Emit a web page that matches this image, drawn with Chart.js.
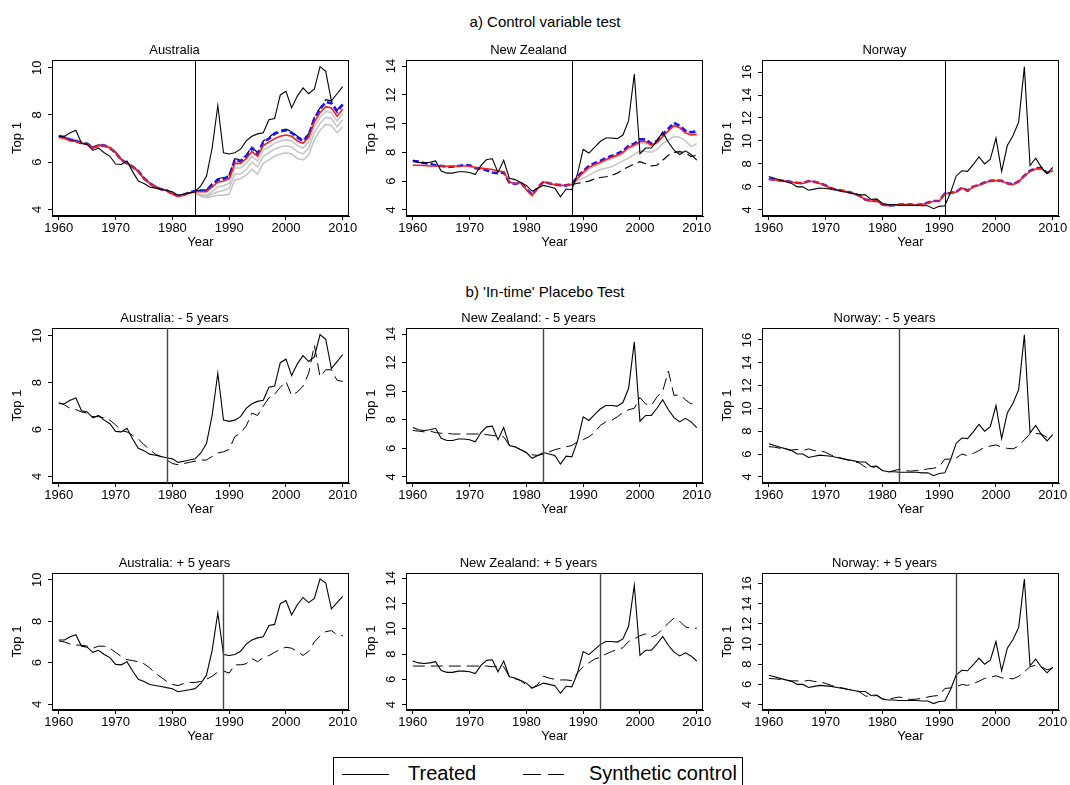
<!DOCTYPE html>
<html>
<head>
<meta charset="utf-8">
<script src="https://cdn.jsdelivr.net/npm/chart.js@4.4.1/dist/chart.umd.min.js"></script>
<style>
  html, body { margin: 0; padding: 0; background: #fff; }
  body { width: 1070px; height: 785px; position: relative; overflow: hidden; font-family: 'Liberation Sans', Arial, sans-serif; color: #000; }
  canvas { position: absolute; }
  .head { position: absolute; width: 400px; text-align: center; font-size: 15px; }
  #legend { position: absolute; left: 333px; top: 757px; width: 410px; height: 40px; border: 1px solid #000; box-sizing: border-box; }
  #legend svg { position: absolute; left: 0; top: 0; }
  #legend span { position: absolute; top: 4px; font-size: 20px; white-space: nowrap; }
</style>
</head>
<body>
<div class="head" style="left:345px;top:13px;">a) Control variable test</div>
<div class="head" style="left:345px;top:283px;">b) 'In-time' Placebo Test</div>
<div id="legend">
  <svg width="410" height="40">
    <line x1="8" y1="16.5" x2="55" y2="16.5" stroke="#000" stroke-width="1"/>
    <line x1="189" y1="16.5" x2="230" y2="16.5" stroke="#000" stroke-width="1" stroke-dasharray="18,7"/>
  </svg>
  <span style="left:74px;">Treated</span>
  <span style="left:255px;">Synthetic control</span>
</div>

<script>
const years = Array.from({ length: 51 }, (_, i) => 1960 + i);
const xTicks = [1960, 1970, 1980, 1990, 2000, 2010];
const auTicks = [4, 6, 8, 10];
const nzTicks = [4, 6, 8, 10, 12, 14];
const noTicks = [4, 6, 8, 10, 12, 14, 16];

// treated series (Top 1 share)
const auTreated = [7.1, 7.1, 7.25, 7.35, 6.8, 6.75, 6.5, 6.6, 6.4, 6.25,
  5.92, 5.9, 6.05, 5.6, 5.2, 5.1, 4.95, 4.9, 4.85, 4.8,
  4.75, 4.6, 4.65, 4.7, 4.75, 5.0, 5.4, 6.6, 8.4, 6.4,
  6.35, 6.4, 6.55, 6.9, 7.1, 7.2, 7.25, 7.8, 7.85, 8.85,
  9.0, 8.3, 8.8, 9.15, 8.9, 9.1, 10.05, 9.85, 8.6, 8.9,
  9.2];
const nzTreated = [7.45, 7.3, 7.25, 7.3, 7.4, 6.7, 6.55, 6.55, 6.65, 6.65,
  6.6, 6.45, 7.1, 7.5, 7.55, 6.6, 7.45, 6.2, 6.1, 5.9,
  5.7, 5.3, 5.5, 5.7, 5.6, 5.5, 4.9, 5.45, 5.4, 6.5,
  8.2, 7.95, 8.35, 8.75, 9.0, 9.0, 8.95, 9.2, 10.2, 13.45,
  7.9, 8.3, 8.3, 8.8, 9.4, 8.7, 8.15, 7.85, 8.1, 7.85,
  7.45];
const noTreated = [6.9, 6.75, 6.6, 6.45, 6.3, 6.0, 6.0, 5.7, 5.8, 5.9,
  5.85, 5.8, 5.7, 5.6, 5.5, 5.4, 5.3, 5.3, 4.9, 4.95,
  4.55, 4.45, 4.45, 4.4, 4.4, 4.4, 4.4, 4.35, 4.35, 4.1,
  4.3, 4.35, 5.5, 6.95, 7.4, 7.35, 7.95, 8.6, 8.0, 8.4,
  10.25, 7.35, 9.6, 10.45, 11.65, 16.45, 7.85, 8.5, 7.7, 7.15,
  7.7];

// a) control variable test: baseline synthetic (red), alternatives (blue, dashed, grey)
const auRed = [7.05, 7.0, 6.9, 6.88, 6.8, 6.75, 6.6, 6.7, 6.7, 6.6,
  6.4, 6.1, 5.95, 5.8, 5.6, 5.3, 5.1, 4.95, 4.85, 4.8,
  4.65, 4.55, 4.6, 4.7, 4.75, 4.75, 4.75, 4.95, 5.15, 5.2,
  5.3, 5.95, 5.95, 6.15, 6.45, 6.25, 6.7, 6.85, 7.0, 7.1,
  7.15, 7.1, 6.9, 6.8, 7.05, 7.7, 8.1, 8.35, 8.3, 7.95,
  8.25];
const auBlue = [7.1, 7.05, 6.95, 6.9, 6.8, 6.78, 6.62, 6.7, 6.7, 6.6,
  6.4, 6.1, 5.95, 5.8, 5.62, 5.32, 5.1, 4.95, 4.85, 4.8,
  4.65, 4.57, 4.62, 4.72, 4.78, 4.8, 4.8, 5.05, 5.25, 5.3,
  5.4, 6.1, 6.05, 6.25, 6.6, 6.35, 6.85, 7.0, 7.2, 7.3,
  7.35, 7.25, 7.05, 6.9, 7.15, 7.85, 8.25, 8.55, 8.5, 8.15,
  8.45];
const auDash = [7.12, 7.05, 6.95, 6.9, 6.82, 6.78, 6.62, 6.72, 6.7, 6.6,
  6.42, 6.12, 5.95, 5.82, 5.62, 5.32, 5.1, 4.97, 4.85, 4.8,
  4.67, 4.57, 4.62, 4.72, 4.78, 4.82, 4.82, 5.1, 5.3, 5.35,
  5.45, 6.15, 6.1, 6.3, 6.65, 6.4, 6.9, 7.05, 7.25, 7.35,
  7.4, 7.3, 7.1, 6.95, 7.2, 7.9, 8.3, 8.65, 8.6, 8.2,
  8.5];
const auGrey1 = [7.15, 7.1, 7.0, 6.95, 6.85, 6.8, 6.65, 6.75, 6.75, 6.65,
  6.45, 6.15, 6.0, 5.85, 5.65, 5.35, 5.15, 5.0, 4.9, 4.8,
  4.68, 4.58, 4.62, 4.7, 4.72, 4.62, 4.6, 4.75, 4.95, 5.0,
  5.1, 5.75, 5.75, 5.95, 6.25, 6.05, 6.5, 6.65, 6.8, 6.9,
  6.95, 6.9, 6.7, 6.6, 6.85, 7.5, 7.9, 8.15, 8.1, 7.75,
  8.05];
const auGreyStart = 1984;
const auGrey2 = [4.7, 4.6, 4.55, 4.65, 4.75, 4.8,
  4.9, 5.5, 5.5, 5.7, 6.0, 5.8, 6.25, 6.4, 6.55, 6.65,
  6.7, 6.65, 6.45, 6.35, 6.6, 7.25, 7.65, 7.9, 7.85, 7.5, 7.8];
const auGrey3 = [4.68, 4.55, 4.5, 4.55, 4.6, 4.6,
  4.65, 5.25, 5.3, 5.45, 5.7, 5.5, 5.95, 6.1, 6.25, 6.35,
  6.4, 6.35, 6.15, 6.1, 6.3, 6.95, 7.35, 7.6, 7.55, 7.25, 7.5];

const nzRed = [7.1, 7.1, 7.08, 7.05, 7.05, 7.05, 7.03, 7.03, 7.05, 7.05,
  7.05, 6.95, 6.9, 6.85, 6.8, 6.7, 6.65, 5.95, 5.8, 5.9,
  5.4, 5.0, 5.5, 5.95, 5.85, 5.75, 5.7, 5.7, 5.75, 6.2,
  6.6, 6.95, 7.15, 7.3, 7.5, 7.65, 7.8, 8.0, 8.35, 8.5,
  8.75, 8.75, 8.5, 8.7, 9.1, 9.5, 9.85, 9.7, 9.35, 9.2,
  9.25];
const nzBlue = [7.4, 7.35, 7.25, 7.2, 7.1, 7.05, 7.0, 7.0, 7.05, 7.1,
  7.1, 6.9, 6.85, 6.75, 6.6, 6.55, 6.6, 5.9, 5.8, 5.9,
  5.45, 5.05, 5.55, 5.95, 5.85, 5.75, 5.72, 5.7, 5.8, 6.3,
  6.7, 7.05, 7.25, 7.4, 7.6, 7.75, 7.9, 8.1, 8.45, 8.6,
  8.9, 8.9, 8.6, 8.8, 9.25, 9.65, 10.05, 9.85, 9.5, 9.4,
  9.45];
const nzAltStart = 1988;
const nzDash = [5.75, 5.85, 5.9, 6.0, 6.15, 6.25, 6.3, 6.4, 6.55, 6.8, 7.0, 7.2,
  7.35, 7.2, 7.05, 7.1, 7.45, 7.8, 8.0, 8.05, 7.95, 7.7, 7.8];
const nzGrey1 = [5.8, 6.0, 6.2, 6.4, 6.6, 6.8, 6.9, 7.0, 7.2, 7.4, 7.6, 7.85,
  8.1, 8.05, 8.0, 8.2, 8.6, 8.85, 9.1, 9.05, 8.8, 8.4, 8.6];
const nzGrey2 = [5.8, 6.15, 6.5, 6.85, 7.05, 7.2, 7.4, 7.55, 7.7, 7.9, 8.25, 8.4,
  8.65, 8.65, 8.45, 8.6, 9.05, 9.45, 9.9, 9.8, 9.5, 9.35, 9.4];

const noRed = [6.65, 6.6, 6.55, 6.5, 6.4, 6.35, 6.3, 6.5, 6.45, 6.3,
  6.1, 5.85, 5.75, 5.65, 5.55, 5.4, 5.2, 4.9, 4.75, 4.8,
  4.45, 4.35, 4.4, 4.45, 4.45, 4.45, 4.4, 4.45, 4.6, 4.75,
  4.75, 5.4, 5.45, 5.55, 5.9, 5.65, 6.0, 6.15, 6.35, 6.5,
  6.55, 6.5, 6.3, 6.2, 6.45, 6.95, 7.35, 7.55, 7.6, 7.2,
  7.4];
const noBlue = [6.7, 6.62, 6.55, 6.52, 6.42, 6.35, 6.32, 6.5, 6.45, 6.32,
  6.12, 5.87, 5.75, 5.65, 5.55, 5.42, 5.22, 4.9, 4.77, 4.8,
  4.47, 4.37, 4.4, 4.45, 4.47, 4.45, 4.42, 4.47, 4.62, 4.77,
  4.77, 5.42, 5.47, 5.57, 5.92, 5.67, 6.02, 6.17, 6.37, 6.52,
  6.57, 6.52, 6.32, 6.22, 6.47, 6.97, 7.4, 7.6, 7.65, 7.22,
  7.42];

// b) in-time placebo synthetic controls
const auMinus5 = [7.15, 7.05, 6.9, 6.85, 6.75, 6.7, 6.55, 6.55, 6.5, 6.4,
  6.2, 5.95, 5.9, 5.75, 5.6, 5.35, 5.15, 4.95, 4.85, 4.7,
  4.55, 4.5, 4.55, 4.6, 4.65, 4.7, 4.7, 4.85, 5.0, 5.05,
  5.15, 5.7, 5.85, 6.15, 6.7, 6.6, 7.0, 7.35, 7.5, 7.8,
  8.05, 7.45, 7.6, 7.85, 8.4, 9.6, 8.25, 8.55, 8.55, 8.1,
  8.05];
const nzMinus5 = [7.25, 7.2, 7.15, 7.2, 7.1, 7.05, 7.05, 7.0, 7.0, 7.0,
  7.0, 7.0, 7.0, 6.95, 6.9, 6.85, 6.8, 6.2, 6.1, 5.9,
  5.7, 5.55, 5.5, 5.6, 5.75, 5.9, 6.0, 6.1, 6.2, 6.45,
  6.6, 6.8, 7.1, 7.6, 7.85, 7.95, 8.2, 8.5, 8.7, 8.8,
  9.55, 9.1, 9.0, 9.6, 10.0, 11.4, 9.7, 9.75, 9.4, 9.1,
  9.25];
const noMinus5 = [6.65, 6.6, 6.5, 6.45, 6.35, 6.4, 6.3, 6.45, 6.3, 6.3,
  6.15, 5.9, 5.75, 5.6, 5.45, 5.35, 5.2, 4.85, 4.8, 4.9,
  4.55, 4.4, 4.55, 4.65, 4.55, 4.5, 4.55, 4.6, 4.7, 4.75,
  4.9, 5.55, 5.55, 5.65, 6.0, 5.85, 6.05, 6.3, 6.6, 6.7,
  6.8, 6.6, 6.5, 6.45, 6.7, 7.25, 7.75, 7.8, 7.75, 7.45,
  7.6];
const auPlus5 = [7.05, 7.0, 6.9, 6.85, 6.85, 6.8, 6.7, 6.8, 6.8, 6.7,
  6.5, 6.3, 6.15, 6.1, 6.05, 5.95, 5.75, 5.5, 5.3, 5.1,
  4.95, 4.9, 5.0, 5.05, 5.05, 5.1, 5.2, 5.35, 5.55, 5.6,
  5.5, 5.9, 5.9, 5.95, 6.2, 6.05, 6.25, 6.35, 6.5, 6.65,
  6.75, 6.7, 6.55, 6.35, 6.55, 7.0, 7.3, 7.5, 7.55, 7.35,
  7.3];
const nzPlus5 = [7.05, 7.05, 7.05, 7.05, 7.05, 7.05, 7.05, 7.05, 7.05, 7.05,
  7.05, 7.05, 7.05, 7.05, 7.0, 7.0, 7.0, 6.2, 6.05, 5.9,
  5.55, 5.3, 5.6, 6.25, 6.1, 6.0, 5.95, 5.95, 5.9, 6.5,
  7.0, 7.3, 7.6, 7.75, 8.0, 8.2, 8.35, 8.5, 9.0, 9.2,
  9.45, 9.6, 9.35, 9.55, 10.0, 10.45, 10.85, 10.6, 10.15, 10.05,
  10.05];
const noPlus5 = [6.6, 6.55, 6.5, 6.4, 6.35, 6.35, 6.3, 6.4, 6.3, 6.25,
  6.1, 5.9, 5.75, 5.65, 5.5, 5.4, 5.25, 4.85, 4.8, 4.9,
  4.55, 4.5, 4.65, 4.75, 4.6, 4.5, 4.55, 4.6, 4.75, 4.85,
  4.9, 5.6, 5.65, 5.75, 6.0, 5.9, 6.1, 6.3, 6.6, 6.7,
  6.85, 6.65, 6.6, 6.55, 6.8, 7.25, 7.75, 7.9, 7.75, 7.45,
  7.6];

const FONT = "'Liberation Sans', Arial, sans-serif";

function pts(vals, start) {
  const y0 = start || years[0];
  return vals.map((v, i) => ({ x: y0 + i, y: v }));
}
function treated(vals) {
  return { data: pts(vals), borderColor: '#000', borderWidth: 1.1 };
}
function synth(vals) {
  return { data: pts(vals), borderColor: '#000', borderWidth: 1, borderDash: [12, 6] };
}
function red(vals) {
  return { data: pts(vals), borderColor: '#ff1a1a', borderWidth: 1.6 };
}
function blue(vals) {
  return { data: pts(vals), borderColor: '#1414ff', borderWidth: 2.6, borderDash: [6, 3] };
}
function altDash(vals, start) {
  return { data: pts(vals, start), borderColor: '#000', borderWidth: 1.2, borderDash: [9, 5] };
}
function grey(vals, start) {
  return { data: pts(vals, start), borderColor: '#c4c4c4', borderWidth: 1.5 };
}

const frame = {
  id: 'frame',
  beforeDatasetsDraw(chart) {
    const a = chart.chartArea, ctx = chart.ctx;
    ctx.save();
    ctx.strokeStyle = '#000';
    ctx.lineWidth = 1;
    ctx.strokeRect(Math.round(a.left) + 0.5, Math.round(a.top) + 0.5,
      Math.round(a.right - a.left) - 1, Math.round(a.bottom - a.top) - 1);
    ctx.restore();
  }
};
const cutLine = {
  id: 'cutLine',
  afterDatasetsDraw(chart, args, opts) {
    const a = chart.chartArea, ctx = chart.ctx;
    const x = Math.round(chart.scales.x.getPixelForValue(opts.year)) + 0.5;
    ctx.save();
    ctx.strokeStyle = opts.color;
    ctx.lineWidth = opts.width;
    ctx.beginPath();
    ctx.moveTo(x, a.top);
    ctx.lineTo(x, a.bottom);
    ctx.stroke();
    ctx.restore();
  }
};

const colL = [52, 406, 762];
const rowT = [60, 328, 573];
const rowH = [156, 155, 137];
const boxW = 297;
const yAxisW = 52, xAxisH = 34, titleH = 24, padR = 10;

const range = {
  au: { min: 3.72, max: 10.33, ticks: auTicks },
  nz: { min: 3.57, max: 14.42, ticks: nzTicks },
  no: { min: 3.46, max: 17.05, ticks: noTicks }
};

const panels = [
  { row: 0, col: 0, title: 'Australia', r: 'au', cut: 1984, line: ['#000', 1],
    sets: [treated(auTreated), red(auRed), blue(auBlue), altDash(auDash), grey(auGrey1), grey(auGrey2, auGreyStart), grey(auGrey3, auGreyStart)] },
  { row: 0, col: 1, title: 'New Zealand', r: 'nz', cut: 1988, line: ['#000', 1],
    sets: [treated(nzTreated), red(nzRed), blue(nzBlue), altDash(nzDash, nzAltStart), grey(nzGrey2, nzAltStart), grey(nzGrey1, nzAltStart)] },
  { row: 0, col: 2, title: 'Norway', r: 'no', cut: 1991, line: ['#000', 1],
    sets: [treated(noTreated), red(noRed), blue(noBlue)] },
  { row: 1, col: 0, title: 'Australia: - 5 years', r: 'au', cut: 1979, line: ['#444', 1.4],
    sets: [treated(auTreated), synth(auMinus5)] },
  { row: 1, col: 1, title: 'New Zealand: - 5 years', r: 'nz', cut: 1983, line: ['#444', 1.4],
    sets: [treated(nzTreated), synth(nzMinus5)] },
  { row: 1, col: 2, title: 'Norway: - 5 years', r: 'no', cut: 1983, line: ['#444', 1.4],
    sets: [treated(noTreated), synth(noMinus5)] },
  { row: 2, col: 0, title: 'Australia: + 5 years', r: 'au', cut: 1989, line: ['#444', 1.4],
    sets: [treated(auTreated), synth(auPlus5)] },
  { row: 2, col: 1, title: 'New Zealand: + 5 years', r: 'nz', cut: 1993, line: ['#444', 1.4],
    sets: [treated(nzTreated), synth(nzPlus5)] },
  { row: 2, col: 2, title: 'Norway: + 5 years', r: 'no', cut: 1993, line: ['#444', 1.4],
    sets: [treated(noTreated), synth(noPlus5)] }
];

panels.forEach(p => {
  const cv = document.createElement('canvas');
  const w = yAxisW + boxW + padR;
  const h = titleH + rowH[p.row] + xAxisH;
  cv.width = w;
  cv.height = h;
  cv.style.left = (colL[p.col] - yAxisW) + 'px';
  cv.style.top = (rowT[p.row] - titleH) + 'px';
  document.body.appendChild(cv);

  const rg = range[p.r];
  p.sets.forEach(s => { s.pointRadius = 0; s.tension = 0; s.fill = false; });

  new Chart(cv.getContext('2d'), {
    type: 'line',
    data: { datasets: p.sets },
    options: {
      responsive: false,
      animation: false,
      devicePixelRatio: 1,
      layout: { padding: { top: 0, right: padR, bottom: 0, left: 0 } },
      plugins: {
        legend: { display: false },
        tooltip: { enabled: false },
        title: {
          display: true,
          text: p.title,
          color: '#000',
          font: { family: FONT, size: 13, weight: 'normal' },
          padding: { top: 6.4, bottom: 2 }
        },
        cutLine: { year: p.cut, color: p.line[0], width: p.line[1] }
      },
      scales: {
        x: {
          type: 'linear',
          min: 1958.8,
          max: 2011.1,
          afterBuildTicks: s => { s.ticks = xTicks.map(v => ({ value: v })); },
          afterFit: s => { s.height = xAxisH; },
          ticks: { color: '#000', font: { family: FONT, size: 13 }, padding: 1, maxRotation: 0, autoSkip: false, callback: v => String(v) },
          grid: { display: true, drawOnChartArea: false, drawTicks: true, tickLength: 4, color: '#000' },
          border: { display: true, color: '#000' },
          title: { display: true, text: 'Year', color: '#000', font: { family: FONT, size: 13 }, padding: { top: 0, bottom: 0 } }
        },
        y: {
          min: rg.min,
          max: rg.max,
          afterBuildTicks: s => { s.ticks = rg.ticks.map(v => ({ value: v })); },
          afterFit: s => { s.width = yAxisW; },
          ticks: { color: '#000', font: { family: FONT, size: 13 }, padding: 3, minRotation: 90, maxRotation: 90, crossAlign: 'center', autoSkip: false, callback: v => String(v) },
          grid: { display: true, drawOnChartArea: false, drawTicks: true, tickLength: 4, color: '#000' },
          border: { display: true, color: '#000' },
          title: { display: true, text: 'Top 1', color: '#000', font: { family: FONT, size: 13 }, padding: { top: 10, bottom: 0 } }
        }
      }
    },
    plugins: [frame, cutLine]
  });
});
</script>
</body>
</html>
